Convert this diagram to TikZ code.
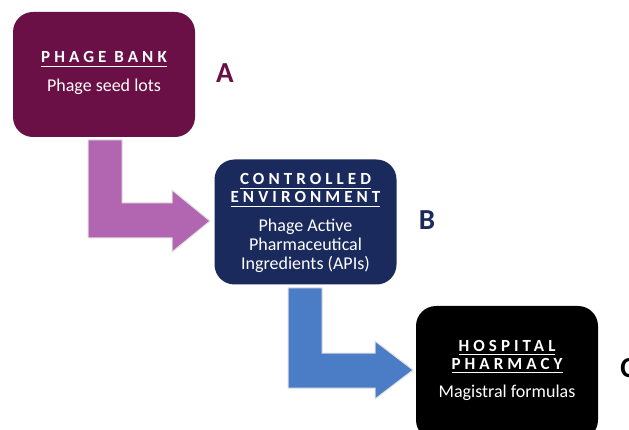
\documentclass[tikz,border=0pt]{standalone}
\usepackage{fontspec}
\setmainfont{Carlito}
\newfontfamily\ttlfont{Carlito}[LetterSpace=24]
\definecolor{cmaroon}{HTML}{6A1047}
\definecolor{cnavy}{HTML}{1B2A5C}
\definecolor{cpink}{HTML}{B266B2}
\definecolor{cblue}{HTML}{4A7DC6}
\newcommand\uln[1]{\setbox0\hbox{#1}\leavevmode\rlap{\raisebox{-4pt}{\rule{\wd0}{1.4pt}}}\box0}
\begin{document}
\begin{tikzpicture}[x=1pt,y=-1pt,
  box/.style={rounded corners=20pt, minimum width=182pt, minimum height=125pt, inner sep=0pt},
  ttl/.style={anchor=base, text=white, font=\ttlfont\fontsize{17}{18}\selectfont\bfseries, inner sep=0pt},
  body/.style={anchor=base, text=white, font=\fontsize{18}{19.5}\selectfont, align=center, inner sep=0pt},
  lbl/.style={anchor=base, font=\fontsize{29}{30}\selectfont\bfseries, inner sep=0pt},
  bentarrow/.style={draw=black!12, line width=1pt}]
\useasboundingbox (0,0) rectangle (629,430);
\clip (0,0) rectangle (629,430);
\fill[white] (0,0) rectangle (629,430);
% boxes
\node[box, fill=cmaroon] (A) at (104,74.5) {};
\node[box, fill=cnavy] (B) at (305.5,222) {};
\node[box, fill=black, minimum height=134pt] (C) at (507,373) {};
% arrows
\fill[cpink, bentarrow] (88,140) -- (122,140) -- (122,203) -- (172,203) -- (172,190) -- (210,221) -- (172,252) -- (172,238) -- (88,238) -- cycle;
\fill[cblue, bentarrow] (288,288) -- (322,288) -- (322,353) -- (375,353) -- (375,341) -- (413,370) -- (375,399) -- (375,388) -- (288,388) -- cycle;
% texts A
\node[ttl] (At) at (104,63) {\uln{PHAGE BANK}};
\node[body] (Ab) at (104,92) {Phage seed lots};
% texts B
\node[ttl] (Bt1) at (305.5,185) {\uln{CONTROLLED}};
\node[ttl] (Bt2) at (305.5,203) {\uln{ENVIRONMENT}};
\node[body] (Bb) at (305.5,270) {Phage Active\\Pharmaceutical\\Ingredients (APIs)};
% texts C
\node[ttl] (Ct1) at (507,351) {\uln{HOSPITAL}};
\node[ttl] (Ct2) at (507,369) {\uln{PHARMACY}};
\node[body] (Cb) at (507,397) {Magistral formulas};
% labels
\node[lbl, text=cmaroon] (LA) at (225,83) {A};
\node[lbl, text=cnavy] (LB) at (427,230) {B};
\node[lbl, text=black] (LC) at (628,377) {C};
\end{tikzpicture}
\end{document}
